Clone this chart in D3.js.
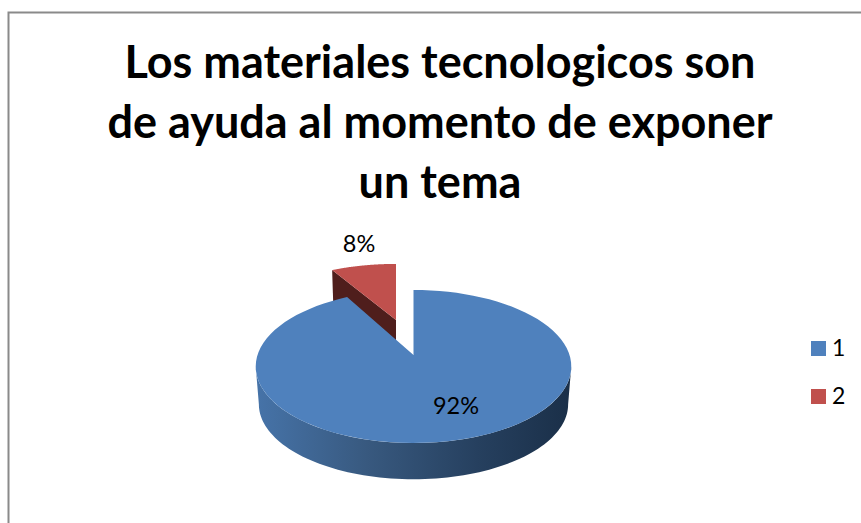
<!DOCTYPE html>
<html lang='en'>
<head>
<meta charset='utf8'>
<title>Los materiales tecnologicos</title>
<script src="https://cdn.jsdelivr.net/npm/d3@7"></script>
<style>
  html, body { margin: 0; padding: 0; background: #fff; }
  svg { display: block; }
  text { font-family: Lato, "Open Sans", sans-serif; fill: #000; }
</style>
</head>
<body>
<div id='chart'></div>
<script type="text/javascript">
var titleLines = ['Los materiales tecnologicos son', 'de ayuda al momento de exponer', 'un tema'];
var categories = ['1', '2'];
var values = [92, 8];
var colors = ['#4f81bd', '#c0504d'];

var width = 861, height = 523;
var svg = d3.select('#chart').append('svg').attr('width', width).attr('height', height);

// chart frame, right and bottom edges run off the picture
svg.append('path')
  .attr('d', 'M8.5,523V12.5H861')
  .attr('fill', 'none')
  .attr('stroke', '#8a8a8a')
  .attr('stroke-width', 2);

svg.selectAll('.title').data(titleLines).enter().append('text')
  .attr('class', 'title')
  .attr('x', 440)
  .attr('y', function(d, i) { return 78 + i * 60; })
  .attr('text-anchor', 'middle')
  .attr('font-size', 45)
  .attr('font-weight', 700)
  .text(function(d) { return d; });

var pie = d3.pie().sort(null).startAngle(0).endAngle(2 * Math.PI);
var arcs = pie(values);
var color = d3.scaleOrdinal().domain(categories).range(colors);

// each slice has its own exploded apex; k is the perspective of the tilted disc
var k = 0.15;
var layout = [
  { x: 413.5, y: 355, rx: 156, ry: 74.8, depth: 38 },
  { x: 396, y: 320, rx: 150, ry: 64.5, depth: 38 }
];

function project(l, a, bottom) {
  var s = bottom ? 0.98 : 1;
  var w = 1 + k * Math.cos(a);
  return [l.x + s * l.rx * Math.sin(a) / w,
          l.y + (bottom ? l.depth : 0) - s * l.ry * Math.cos(a) / w];
}

function rim(l, a0, a1, bottom) {
  var n = 90;
  return d3.range(n + 1).map(function(i) {
    return project(l, a0 + (a1 - a0) * i / n, bottom);
  });
}

var line = d3.line();

var defs = svg.append('defs');
var grad = defs.append('linearGradient')
  .attr('id', 'wall-blue')
  .attr('gradientUnits', 'userSpaceOnUse')
  .attr('x1', 257).attr('x2', 572).attr('y1', 0).attr('y2', 0);
grad.append('stop').attr('offset', '0').attr('stop-color', '#4673a8');
grad.append('stop').attr('offset', '0.35').attr('stop-color', '#38597f');
grad.append('stop').attr('offset', '0.7').attr('stop-color', '#26405f');
grad.append('stop').attr('offset', '1').attr('stop-color', '#1a2f48');

// red slice first, the big one overlaps its side face
var r = arcs[1], rl = layout[1];
svg.append('path')
  .attr('d', line([[rl.x, rl.y], project(rl, r.startAngle, false), project(rl, r.startAngle, true), [rl.x, rl.y + rl.depth]]) + 'Z')
  .attr('fill', '#4f1e1c');
svg.append('path')
  .attr('d', line([[rl.x, rl.y]].concat(rim(rl, r.startAngle, r.endAngle, false))) + 'Z')
  .attr('fill', color(categories[1]));

var b = arcs[0], bl = layout[0];
var a0 = Math.acos(-k), a1 = 2 * Math.PI - a0;
svg.append('path')
  .attr('d', line(rim(bl, a0, a1, false).concat(rim(bl, a1, a0, true))) + 'Z')
  .attr('fill', 'url(#wall-blue)');
svg.append('path')
  .attr('d', line([[bl.x, bl.y]].concat(rim(bl, b.startAngle, b.endAngle, false))) + 'Z')
  .attr('fill', color(categories[0]));

// data labels
var total = d3.sum(values);
var labelPos = [[456, 414], [359, 252]];
svg.selectAll('.pct').data(arcs).enter().append('text')
  .attr('class', 'pct')
  .attr('x', function(d, i) { return labelPos[i][0]; })
  .attr('y', function(d, i) { return labelPos[i][1]; })
  .attr('text-anchor', 'middle')
  .attr('font-size', 23.5)
  .text(function(d) { return Math.round(d.value / total * 100) + '%'; });

// legend
var legendY = d3.scalePoint().domain(categories).range([341, 389]);
var legend = svg.selectAll('.legend').data(categories).enter().append('g')
  .attr('class', 'legend')
  .attr('transform', function(d) { return 'translate(811,' + legendY(d) + ')'; });
legend.append('rect')
  .attr('width', 15).attr('height', 15)
  .attr('fill', function(d) { return color(d); });
legend.append('text')
  .attr('x', 21).attr('y', 15)
  .attr('font-size', 23)
  .text(function(d) { return d; });
</script>
</body>
</html>
